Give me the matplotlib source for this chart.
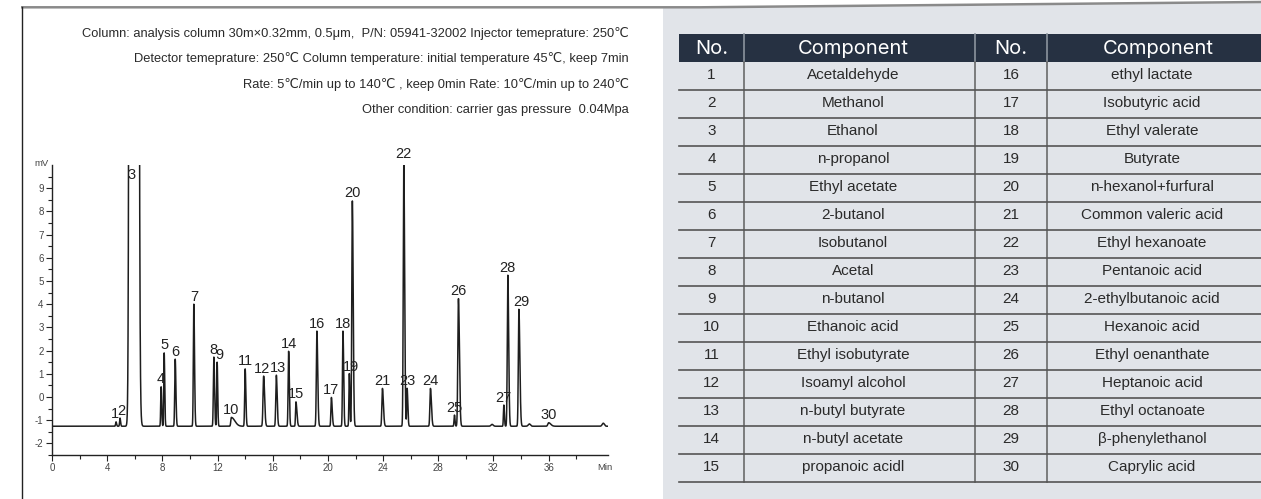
import matplotlib
matplotlib.use('Agg')
import matplotlib.pyplot as plt
from matplotlib.patches import Rectangle, Polygon
import numpy as np

plt.rcParams['axes.unicode_minus'] = False

# ---- data ----
peak_no = list(range(1, 31))
peak_rt = [4.64, 4.93, 5.90, 7.91, 8.13, 8.93, 10.28, 11.73, 11.97, 13.00,
           14.00, 15.34, 16.26, 17.15, 17.68, 19.20, 20.25, 21.09, 21.55, 21.77,
           23.95, 25.50, 25.74, 27.43, 29.17, 29.46, 32.75, 33.04, 33.84, 36.00]
# apex signal in mV (peak 3 is off scale)
peak_top = [-1.07, -0.91, 2000.0, 0.44, 1.90, 1.63, 4.00, 1.72, 1.50, -0.88,
            1.21, 0.90, 0.94, 1.97, -0.21, 2.84, -0.02, 2.84, 1.01, 8.45,
            0.37, 10.03, 0.37, 0.37, -0.78, 4.24, -0.35, 5.25, 3.78, -1.11]
# front / tail width of each peak (min)
peak_wl = [0.03, 0.03, 0.11, 0.03, 0.03, 0.035, 0.035, 0.035, 0.03, 0.04,
           0.035, 0.045, 0.04, 0.035, 0.03, 0.04, 0.035, 0.035, 0.03, 0.04,
           0.04, 0.04, 0.03, 0.04, 0.03, 0.045, 0.03, 0.04, 0.04, 0.06]
peak_wr = [0.04, 0.04, 0.14, 0.04, 0.04, 0.05, 0.05, 0.05, 0.04, 0.25,
           0.05, 0.07, 0.06, 0.05, 0.07, 0.06, 0.06, 0.05, 0.04, 0.06,
           0.07, 0.06, 0.05, 0.07, 0.04, 0.07, 0.04, 0.06, 0.07, 0.15]
# small unlabeled bumps
bump_rt = [31.90, 34.60, 39.96]
bump_top = [-1.18, -1.16, -1.13]
baseline = -1.26
run_end = 40.3

components = ['Acetaldehyde', 'Methanol', 'Ethanol', 'n-propanol', 'Ethyl acetate',
              '2-butanol', 'Isobutanol', 'Acetal', 'n-butanol', 'Ethanoic acid',
              'Ethyl isobutyrate', 'Isoamyl alcohol', 'n-butyl butyrate',
              'n-butyl acetate', 'propanoic acidl', 'ethyl lactate',
              'Isobutyric acid', 'Ethyl valerate', 'Butyrate', 'n-hexanol+furfural',
              'Common valeric acid', 'Ethyl hexanoate', 'Pentanoic acid',
              '2-ethylbutanoic acid', 'Hexanoic acid', 'Ethyl oenanthate',
              'Heptanoic acid', 'Ethyl octanoate', '\u03b2-phenylethanol',
              'Caprylic acid']

conditions = [
    'Column: analysis column 30m\u00d70.32mm, 0.5\u03bcm,  P/N: 05941-32002 Injector temeprature: 250\u2103',
    'Detector temeprature: 250\u2103 Column temperature: initial temperature 45\u2103, keep 7min',
    'Rate: 5\u2103/min up to 140\u2103 , keep 0min Rate: 10\u2103/min up to 240\u2103',
    'Other condition: carrier gas pressure  0.04Mpa',
]

x_ticks = [0, 4, 8, 12, 16, 20, 24, 28, 32, 36]
y_ticks = [-2, -1, 0, 1, 2, 3, 4, 5, 6, 7, 8, 9]

# label nudges in points (style only)
label_nudge = {1: (-1, 0), 2: (1, 0), 9: (2, 0), 12: (-1.5, 0), 13: (1.5, 0),
               19: (1, -1), 29: (2, 0), 22: (0, 2)}

W, H = 1261, 499
fig = plt.figure(figsize=(W / 100, H / 100), dpi=100)
fig.patch.set_facecolor('white')

# overlay in pixel coordinates for frame, text and table
ov = fig.add_axes([0, 0, 1, 1])
ov.set_xlim(0, W)
ov.set_ylim(H, 0)
ov.axis('off')

line_col = '#8a8a8a'
panel = Polygon([(663, 8.3), (700, 8.3), (1261, 3.0), (1261, H), (663, H)],
                closed=True, facecolor='#e1e4e9', edgecolor='none')
ov.add_patch(panel)
ov.plot([21, 700, 1261], [7.3, 7.3, 2.0], color=line_col, lw=1.8,
        solid_capstyle='butt')
ov.plot([21.7, 21.7], [7.3, H], color='#222222', lw=1.0)

cond_font = ['Liberation Sans', 'DejaVu Sans']
for i, line in enumerate(conditions):
    ov.text(629, 33 + i * 25.7, line, ha='right', va='center',
            fontsize=9.3, color='#2a2a2a', family=cond_font)

# ---- table ----
tab_left, tab_right = 679, 1261
col_x = [679, 744, 975, 1047, 1269]
head_top, head_bot = 34, 62
row_h = 28
n_rows = 15
hdr_font = ['Inter', 'DejaVu Sans']
ov.add_patch(Rectangle((tab_left, head_top), tab_right - tab_left,
                       head_bot - head_top, facecolor='#263142', edgecolor='none'))
headers = ['No.', 'Component', 'No.', 'Component']
for j, h in enumerate(headers):
    cx = (col_x[j] + col_x[j + 1]) / 2
    if j == 1:
        cx = 853
    ov.text(cx, (head_top + head_bot) / 2 + 0.5, h, ha='center', va='center',
            color='white', fontsize=14.5, family=hdr_font)
for xv in col_x[1:4]:
    ov.plot([xv, xv], [head_top, head_bot], color='#8c949e', lw=1.2)
    ov.plot([xv, xv], [head_bot, head_bot + n_rows * row_h], color='#6a6a6a', lw=1.2)

body_font = ['Liberation Sans', 'DejaVu Sans']
for r in range(n_rows):
    yc = head_bot + r * row_h + row_h / 2 - 1
    left_i, right_i = r, r + n_rows
    cells = [str(peak_no[left_i]), components[left_i],
             str(peak_no[right_i]), components[right_i]]
    for j, c in enumerate(cells):
        cx = (col_x[j] + col_x[j + 1]) / 2
        if j == 1:
            cx = 853
        if j == 3:
            cx = 1152
        ov.text(cx, yc, c, ha='center', va='center', fontsize=11,
                color='#2a2a2a', family=body_font)
    yl = head_bot + (r + 1) * row_h
    ov.plot([tab_left, tab_right], [yl, yl], color='#555555', lw=1.2)

# ---- chromatogram ----
ax_l, ax_r, ax_t, ax_b = 52, 608, 165, 455
ax = fig.add_axes([ax_l / W, (H - ax_b) / H, (ax_r - ax_l) / W, (ax_b - ax_t) / H])
ax.set_facecolor('none')

t = np.linspace(0, run_end, 24000)
signal = np.full_like(t, baseline)
for rt, top, wl, wr in zip(peak_rt, peak_top, peak_wl, peak_wr):
    s = np.where(t < rt, wl, wr)
    signal += (top - baseline) * np.exp(-0.5 * ((t - rt) / s) ** 2)
for rt, top in zip(bump_rt, bump_top):
    signal += (top - baseline) * np.exp(-0.5 * ((t - rt) / 0.08) ** 2)

ax.plot(t, signal, color='#1e1e1e', lw=1.1)
ax.set_xlim(0, run_end)
ax.set_ylim(-2.5, 10.0)

for no, rt, top in zip(peak_no, peak_rt, peak_top):
    dx, dy = label_nudge.get(no, (0, 0))
    if no == 3:
        ax.annotate(str(no), xy=(rt, 1), xycoords=('data', 'axes fraction'),
                    xytext=(-1, -2), textcoords='offset points',
                    ha='center', va='top', fontsize=10.5, color='#222222',
                    family='Liberation Sans', annotation_clip=False)
        continue
    ax.annotate(str(no), xy=(rt, top), xytext=(dx, 2.5 + dy),
                textcoords='offset points', ha='center', va='baseline',
                fontsize=10.5, color='#222222', family='Liberation Sans',
                annotation_clip=False)

for sp in ['top', 'right']:
    ax.spines[sp].set_visible(False)
for sp in ['left', 'bottom']:
    ax.spines[sp].set_color('#222222')
    ax.spines[sp].set_linewidth(1.0)

ax.set_xticks(x_ticks)
ax.set_xticks([v + 2 for v in x_ticks], minor=True)
ax.set_yticks(y_ticks)
ax.set_yticks([v + 0.5 for v in y_ticks] + [-2.5], minor=True)
ax.tick_params(axis='both', which='major', length=4, width=0.8, color='#222222',
               labelsize=7, labelcolor='#444444', pad=2)
ax.tick_params(axis='both', which='minor', length=3, width=0.8, color='#222222')
for lab in ax.get_xticklabels() + ax.get_yticklabels():
    lab.set_family('Liberation Sans')

ov.text(34, 163, 'mV', fontsize=6.8, color='#444444', ha='left', va='center',
        family='Liberation Sans')
ov.text(597, 467, 'Min', fontsize=6.8, color='#444444', ha='left', va='center',
        family='Liberation Sans')

fig.savefig('out.png', dpi=100, facecolor='white')
